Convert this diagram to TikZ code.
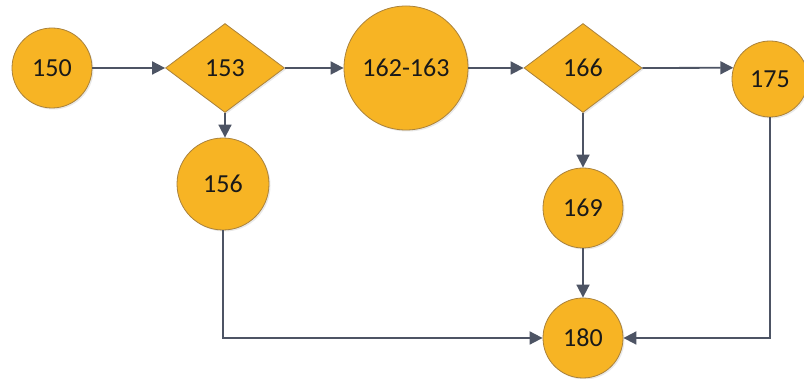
\documentclass[tikz,border=0pt]{standalone}
\usepackage{fontspec}
\setmainfont{Carlito}
\usetikzlibrary{shapes.geometric,arrows.meta,shadows}
\definecolor{nodefill}{RGB}{247,180,36}
\definecolor{nodeedge}{RGB}{170,130,60}
\definecolor{linecol}{RGB}{77,84,100}
\definecolor{txt}{RGB}{25,25,25}
\tikzset{
  base/.style={fill=nodefill, draw=nodeedge, line width=0.8pt, text=txt,
    font=\fontsize{26}{30}\selectfont, inner sep=0pt,
    drop shadow={opacity=0.18, shadow xshift=1.5pt, shadow yshift=-1.5pt}},
  circ/.style={base, circle},
  dia/.style={base, diamond, minimum width=119pt, minimum height=89pt},
  conn/.style={draw=linecol, line width=1.8pt},
  arr/.style={conn, -{Triangle[length=13pt,width=13pt]}}
}
\begin{document}
\begin{tikzpicture}[x=1pt,y=1pt]
\useasboundingbox (0,0) rectangle (804,379);
\fill[white] (0,0) rectangle (804,379);
\node[circ, minimum size=80pt] (n150) at (52,311) {150};
\node[dia] (n153) at (225,311) {153};
\node[circ, minimum size=124pt] (n162) at (406,311) {162-163};
\node[dia, minimum width=118pt] (n166) at (583,311) {166};
\node[circ, minimum size=76pt] (n175) at (770,300) {175};
\node[circ, minimum size=92pt] (n156) at (223,195) {156};
\node[circ, minimum size=80pt] (n169) at (583,171) {169};
\node[circ, minimum size=80pt] (n180) at (583,41) {180};
\draw[arr] (n150.east) -- (n153.west);
\draw[arr] (n153.east) -- (n162.west);
\draw[arr] (n162.east) -- (n166.west);
\draw[arr] (n166.east) -- (n175.163);
\draw[arr] (n153.south) -- (n153.south |- n156.north);
\draw[arr] (n166.south) -- (n169.north);
\draw[arr] (n169.south) -- (n180.north);
\draw[arr] (n156.south) |- (n180.west);
\draw[arr] (n175.south) |- (n180.east);
\end{tikzpicture}
\end{document}
